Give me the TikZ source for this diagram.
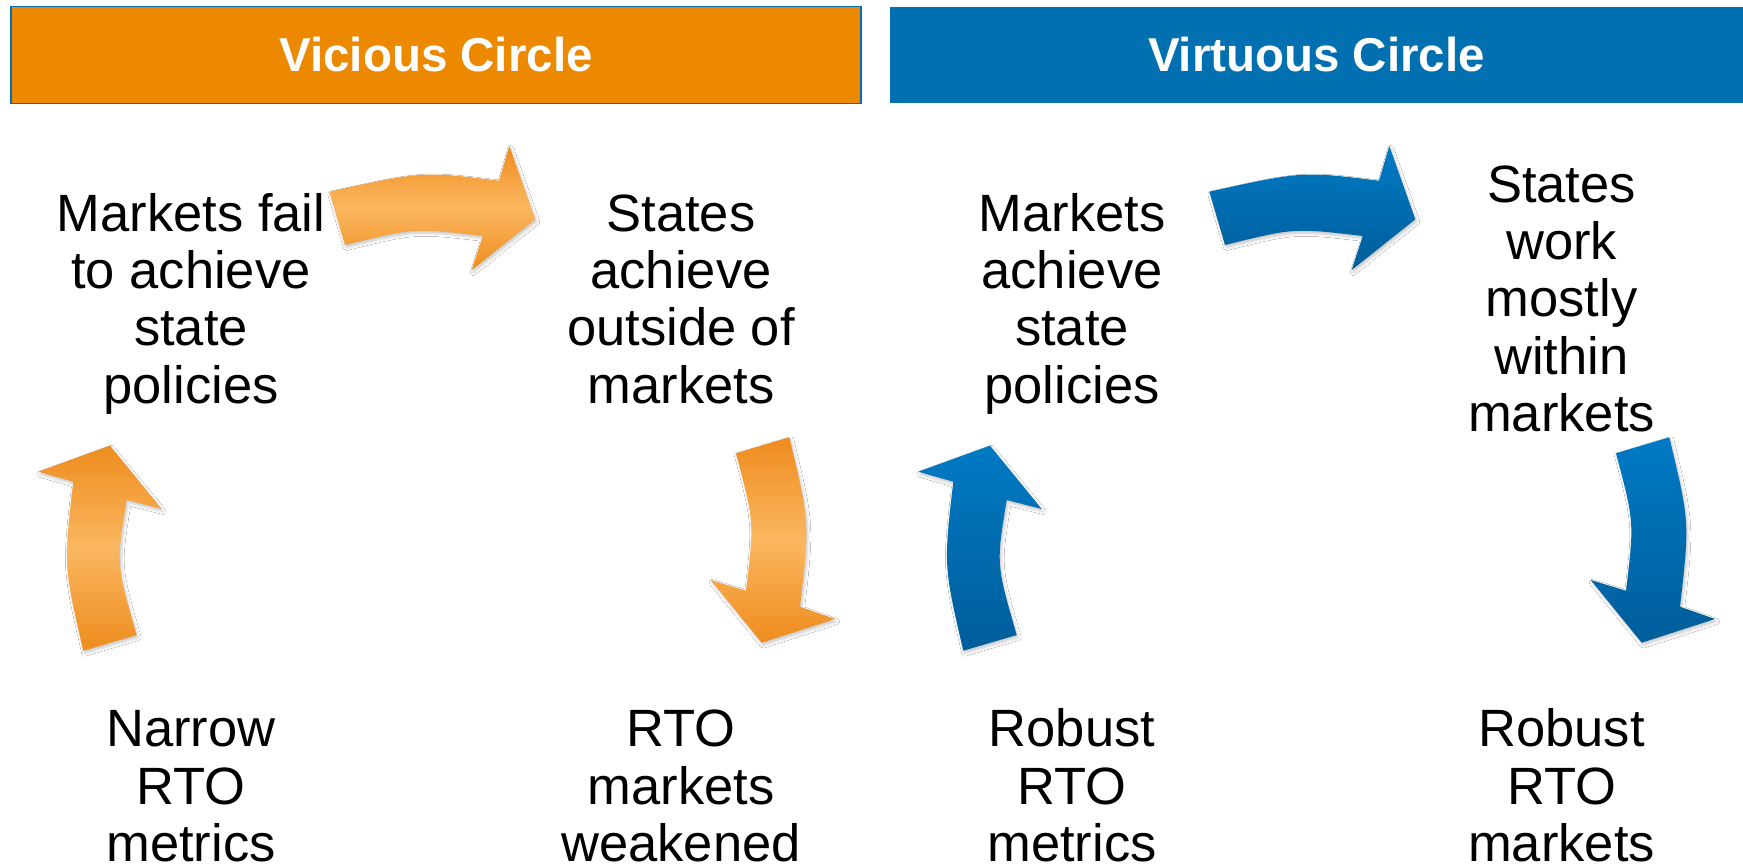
\documentclass[tikz,border=0pt]{standalone}
\usepackage{fontspec}
\setmainfont{Liberation Sans}
\usetikzlibrary{shadows.blur}
\definecolor{vorange}{RGB}{237,137,0}
\definecolor{vblue}{RGB}{0,112,176}
\definecolor{arrowdark}{RGB}{238,140,30}
\definecolor{arrowlight}{RGB}{251,183,96}
\definecolor{bluetop}{RGB}{0,122,196}
\definecolor{bluebottom}{RGB}{0,93,154}

% curved cycle arrows (left panel coordinates, 1 unit = 1pt, y downwards)
\newcommand\cycTop{(329.3,191.7) .. controls (422,171.2) .. (499,180.7) -- (509.3,146) -- (535.3,219.3) -- (471.7,270) -- (482.7,236) .. controls (414,227.9) .. (345,245) -- cycle}
\newcommand\cycUp{(83.3,650.7) -- (136.7,635) .. controls (116.1,564.1) .. (126.7,500) -- (161.7,509) -- (110,445.7) -- (38.3,471.7) -- (73.3,481.7) .. controls (63.6,565.9) .. (83.3,650.7) -- cycle}
\newcommand\cycDown{(736,453.3) -- (789.3,437.3) .. controls (809.7,522) .. (800,606.7) -- (835,619) -- (761.7,642.7) -- (710.7,580) -- (746,590.7) .. controls (754.3,522) .. (736,453.3) -- cycle}

\begin{document}
\begin{tikzpicture}[x=1pt,y=-1pt,
  hdr/.style={rectangle, inner sep=0pt, text=white, font=\bfseries\fontsize{47.5}{50}\selectfont},
  body/.style={align=center, inner sep=0pt, anchor=base, font=\fontsize{52.5}{57.4}\selectfont},
  cyc/.style={blur shadow={shadow xshift=1.5pt, shadow yshift=-2.5pt, shadow blur radius=3pt, shadow opacity=22}},
  warm/.style={cyc, top color=arrowdark, bottom color=arrowdark, middle color=arrowlight},
  cool/.style={cyc, top color=bluetop, bottom color=bluebottom},
]
\useasboundingbox[fill=white] (0,0) rectangle (1743,867);

% headers
\node[hdr, fill=vorange, draw=vblue, line width=1.5pt, minimum width=850pt, minimum height=96.5pt] (vicious) at (436,55) {Vicious Circle};
\node[hdr, fill=vblue, minimum width=853pt, minimum height=96.5pt] (virtuous) at (1316.5,55) {Virtuous Circle};

% vicious circle (node base = baseline of the last line)
\path[warm] \cycTop;
\path[warm] \cycUp;
\path[warm] \cycDown;
\node[body] (failL) at (191,403.2) {Markets fail\\to achieve\\state\\policies};
\node[body] (outsideL) at (681,403.2) {States\\achieve\\outside of\\markets};
\node[body] (narrowL) at (191,861.5) {Narrow\\RTO\\metrics};
\node[body] (weakL) at (681,861.5) {RTO\\markets\\weakened};

% virtuous circle
\begin{scope}[xshift=880pt]
\path[cool] \cycTop;
\path[cool] \cycUp;
\path[cool] \cycDown;
\end{scope}
\node[body] (achieveR) at (1072,403.2) {Markets\\achieve\\state\\policies};
\node[body] (withinR) at (1561.5,431.6) {States\\work\\mostly\\within\\markets};
\node[body] (robustmetR) at (1072,861.5) {Robust\\RTO\\metrics};
\node[body] (robustmktR) at (1561.5,861.5) {Robust\\RTO\\markets};
\end{tikzpicture}
\end{document}
